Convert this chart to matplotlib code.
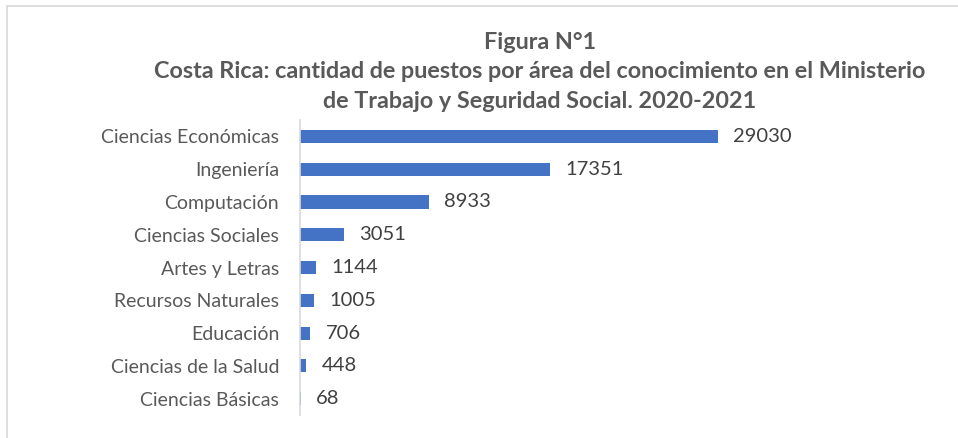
import matplotlib.pyplot as plt
from matplotlib.patches import Rectangle

categories = [
    "Ciencias Económicas", "Ingeniería", "Computación", "Ciencias Sociales",
    "Artes y Letras", "Recursos Naturales", "Educación",
    "Ciencias de la Salud", "Ciencias Básicas",
]
puestos = [29030, 17351, 8933, 3051, 1144, 1005, 706, 448, 68]

title = ("Figura N°1\n"
         "Costa Rica: cantidad de puestos por área del conocimiento en el Ministerio\n"
         "de Trabajo y Seguridad Social. 2020-2021")

plt.rcParams["font.family"] = ["Lato", "DejaVu Sans"]
W, H = 958, 438
fig = plt.figure(figsize=(W / 100, H / 100), dpi=100)

# chart-area border (Excel style)
fig.patches.append(Rectangle((7 / W, -0.1), 1.2, 1 - 6 / H + 0.1,
                             transform=fig.transFigure, fill=False,
                             edgecolor="#d9d9d9", linewidth=1.2))

left, right = 300 / W, 880 / W
top, bottom = 1 - 120 / H, 1 - 415 / H
ax = fig.add_axes([left, bottom, right - left, top - bottom])

ypos = list(range(len(categories)))
ax.barh(ypos, puestos, height=0.4, color="#4472c4")
ax.set_ylim(len(categories) - 0.5, -0.5)
px_per_unit = (718 - 300) / 29030
ax.set_xlim(0, (880 - 300) / px_per_unit)

for y, v in zip(ypos, puestos):
    ax.annotate(str(v), (v, y), xytext=(11, 0), textcoords="offset points",
                va="center", ha="left", fontsize=14.5, color="#404040")

ax.set_yticks(ypos)
ax.set_yticklabels(categories, fontsize=14, color="#595959")
ax.tick_params(axis="y", length=0, pad=15)
ax.set_xticks([])
for s in ["top", "right", "bottom"]:
    ax.spines[s].set_visible(False)
ax.spines["left"].set_color("#d9d9d9")
ax.spines["left"].set_linewidth(1.2)

fig.text(540 / W, 1 - 32 / H, title, ha="center", va="top", fontsize=16.8,
         fontweight="bold", color="#595959", linespacing=1.5)

fig.savefig("out.png", dpi=100)
